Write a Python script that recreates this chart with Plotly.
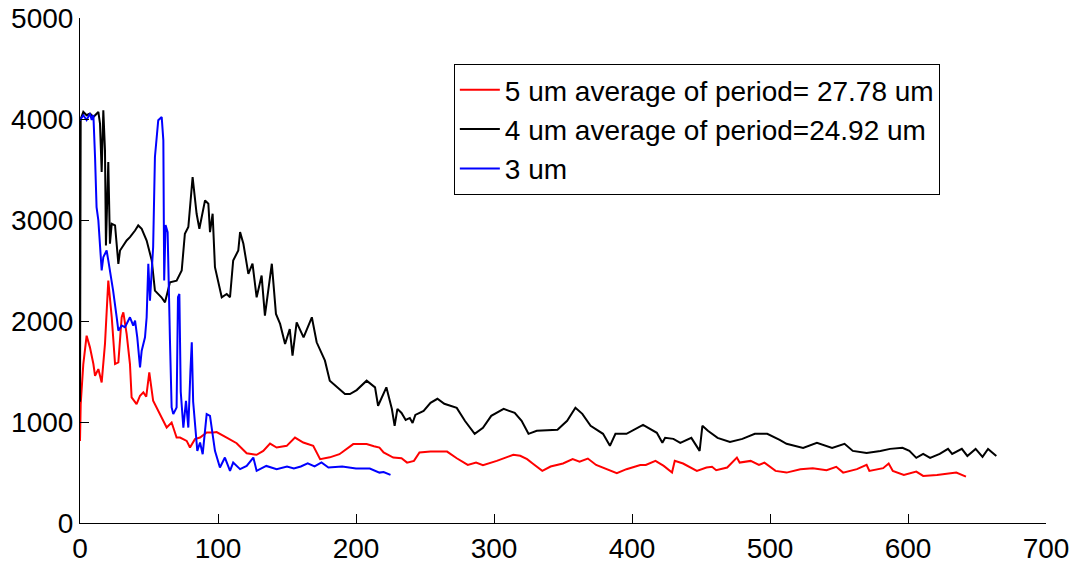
import plotly.graph_objects as go

# ---- data ----
red_x = [0, 0.5, 2.4, 4.8, 7.2, 9.7, 10.9, 13.3, 15.7, 18.1, 20.5, 23, 25.4, 27.8, 30.2, 31.4, 33.8, 36.2, 37.4,
         41, 43.5, 45.9, 48, 50.2, 53, 58, 62.8, 66.4, 70, 72.5, 77.3, 79.7, 83.3, 87, 91.8, 96.6, 99, 106.3, 113.5,
         120.8, 128, 132.8, 137.7, 142.5, 149.8, 155.8, 161.8, 169, 174, 181, 188, 198, 207.7, 213, 217, 220, 227,
         233, 237, 242, 246, 254, 266, 273, 281, 287, 292, 302, 314, 319, 324, 328, 335, 341, 350, 357, 362, 368,
         374, 389, 396, 406, 410, 417, 423, 429, 431, 437, 447, 454, 458, 461, 469, 476, 478, 486, 492, 496, 504,
         512, 522, 531, 541, 548, 553, 563, 570, 572, 582, 586, 589, 597, 606, 611, 621, 635, 642]
red_y = [813, 1177, 1574, 1855, 1739, 1574, 1458, 1524, 1392, 1773, 2400, 2037, 1574, 1590, 2037, 2086, 1872, 1574, 1243,
         1177, 1260, 1293, 1250, 1491, 1210, 1078, 945, 995, 846, 846, 813, 747, 830, 846, 896, 896, 900, 846, 790,
         690, 675, 714, 786, 747, 764, 846, 797, 764, 632, 650, 681, 781, 781, 760, 747, 698, 648,
         641, 598, 615, 698, 707, 707, 641, 575, 598, 572, 615, 675, 665, 632, 589, 516, 559, 589, 632, 608, 638,
         575, 493, 533, 575, 575, 615, 565, 499, 615, 589, 516, 549, 556, 523, 549, 648, 598, 615, 575, 598, 516,
         499, 533, 543, 523, 556, 499, 533, 575, 516, 543, 589, 516, 476, 509, 466, 476, 499, 459]

black_x = [0, 0.5, 2.4, 4.8, 7.2, 9.7, 13.3, 14.5, 15.7, 16.9, 18.1, 18.8, 20.5, 21.7, 23, 25.4, 27.8, 29, 33.8, 36.2,
           39.9, 42.2, 44.7, 48.3, 52, 54.3, 59, 61.6, 65.2, 70, 73.7, 76, 78.5, 81.6, 84.5, 86.5, 90.6, 93, 94.2,
           96.1, 97.8, 102.7, 106.3, 108.7, 111, 114.7, 116, 118.4, 122, 125, 128, 131.6, 134, 139, 142, 145, 148.6,
           152, 154, 157, 162, 168, 171.5, 177.5, 181, 188, 192, 195.6, 200.5, 207.7, 213.8, 216, 222, 226, 228, 230,
           233, 236, 239, 241, 243, 249, 254, 259, 264, 273, 279, 286, 292, 298, 307, 315, 320, 325, 331, 346, 353,
           359, 364, 370, 379, 384, 388, 396, 408, 418, 422, 424, 430, 435, 443, 449, 451, 455, 462, 471, 480, 489,
           498, 507, 512, 524, 534, 545, 554, 560, 570, 580, 587, 596, 601, 606, 611, 616, 623, 629, 632, 639, 643,
           649, 654, 658, 664]
black_y = [1200, 4000, 4070, 4037, 4054, 4020, 4070, 3955, 3475, 4087, 3690, 2748, 3575, 2765, 2963, 2946, 2566, 2698, 2797, 2830,
           2896, 2946, 2913, 2797, 2599, 2301, 2235, 2185, 2384, 2400, 2500, 2864, 2930, 3425, 3062, 2913, 3194, 3161, 2880,
           3062, 2533, 2235, 2268, 2235, 2599, 2698, 2880, 2765, 2467, 2567, 2235, 2450, 2053, 2567, 2070, 1971, 1773,
           1921, 1657, 1987, 1838, 2037, 1789, 1607, 1409, 1326, 1277, 1277, 1316, 1409, 1343, 1161, 1343, 1128, 962, 1130,
           1090, 1020, 1040, 990, 1070, 1110, 1190, 1230, 1180, 1140, 1010, 883, 942, 1061, 1130, 1090, 1012, 883, 913, 923, 1012,
           1141, 1081, 962, 883, 764, 883, 883, 972, 893, 794, 843, 833, 794, 843, 714, 962, 913, 843, 803, 833, 883,
           883, 823, 784, 744, 794, 744, 784, 714, 694, 714, 734, 744, 714, 645, 684, 645, 684, 734, 684, 734, 664,
           734, 655, 734, 664]

blue_x = [0, 2.4, 4.8, 7.2, 8.5, 9.7, 10.9, 12, 13.3, 14.5, 15.7, 16.9, 18, 19.3, 20.5, 21.7, 24, 26.6, 27.8, 30.2,
          32.6, 36.2, 38.6, 39.9, 41.5, 43.5, 44.7, 47.1, 48.3, 49.5, 50.7, 53, 54.3, 56.7, 59.2, 60.4, 61, 62, 63.5,
          65.2, 66.4, 67.6, 70, 71, 72, 73, 74.9, 76.8, 78.5, 80, 81, 82, 83.3, 85, 87, 88.9, 91.8, 94.2, 97.8, 101.4,
          105, 108.7, 111, 116, 120.8, 125.6, 128, 135, 142.5, 150, 155, 160, 165, 170, 175, 180, 190, 200, 210, 217,
          220, 225]
blue_y = [3988, 4037, 3990, 4054, 3990, 4040, 3624, 3128, 2996, 2731, 2500, 2632, 2665, 2698, 2600, 2500, 2301, 2037, 1905, 1954,
          1938, 2037, 1954, 2004, 1838, 1541, 1706, 1838, 2037, 2566, 2202, 2731, 3624, 3988, 4020, 3789, 2400, 2950, 2880,
          1800, 1144, 1078, 1144, 2235, 2268, 1300, 945, 1210, 945, 1500, 1789, 1200, 945, 714, 797, 681, 1078, 1061, 714, 549,
          648, 516, 598, 533, 565, 648, 516, 565, 533, 560, 540, 560, 590, 560, 600, 550, 560, 540, 540, 499,
          505, 476]

names = ["5 um average of period= 27.78 um", "4 um average of period=24.92 um", "3 um"]
colors = ["#ff0000", "#000000", "#0000ff"]

FONT = "Arial, Liberation Sans, sans-serif"

fig = go.Figure()
for i, (xs, ys) in enumerate([(red_x, red_y), (black_x, black_y), (blue_x, blue_y)]):
    fig.add_trace(go.Scatter(x=xs, y=ys, mode="lines", name=names[i],
                             line=dict(color=colors[i], width=2)))

# page body has an 8px default margin, so the figure is 8px smaller each way
fig.update_layout(
    width=1081, height=555,
    margin=dict(l=72, r=43, t=10, b=40),
    paper_bgcolor="white", plot_bgcolor="white",
    font=dict(family=FONT, size=28, color="black"),
    showlegend=True,
    legend=dict(x=0.387, y=0.909, xanchor="left", yanchor="top",
                bgcolor="white", bordercolor="black", borderwidth=1,
                font=dict(family=FONT, size=28, color="black"),
                itemwidth=40, tracegroupgap=0),
)
fig.update_xaxes(range=[0, 700], dtick=100, tick0=0, showgrid=False, zeroline=False,
                 showline=True, linecolor="black", linewidth=1, automargin=False,
                 ticklabeloverflow="allow",
                 ticks="inside", ticklen=9, tickcolor="black")
fig.update_yaxes(range=[0, 5000], dtick=1000, tick0=0, showgrid=False, zeroline=False,
                 showline=True, linecolor="black", linewidth=1, automargin=False,
                 ticklabeloverflow="allow",
                 ticks="inside", ticklen=9, tickcolor="black")

fig.write_html("out.html")
